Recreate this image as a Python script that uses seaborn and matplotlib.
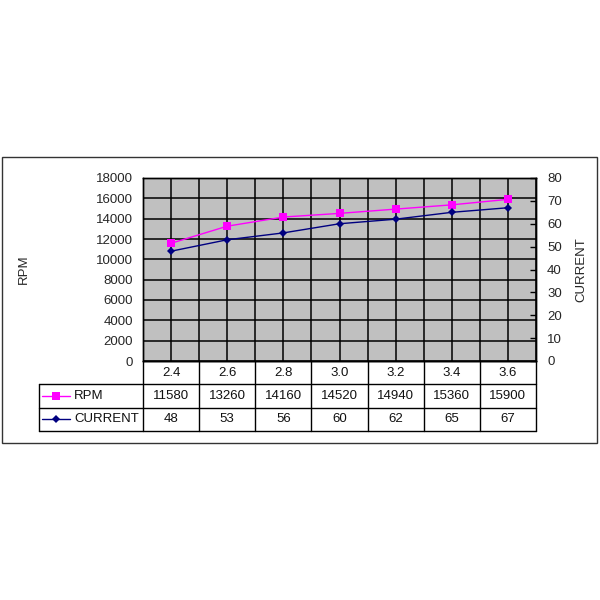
import numpy as np
import pandas as pd
import matplotlib
matplotlib.use("Agg")
import matplotlib.pyplot as plt
import seaborn as sns
from matplotlib.lines import Line2D
from matplotlib.patches import Rectangle

# ------------------------------------------------------------
# data
# ------------------------------------------------------------
categories = ["2.4", "2.6", "2.8", "3.0", "3.2", "3.4", "3.6"]
rpm = [11580, 13260, 14160, 14520, 14940, 15360, 15900]
current = [48, 53, 56, 60, 62, 65, 67]
series_names = ["RPM", "CURRENT"]

rpm_ticks = np.arange(0, 18001, 2000)
current_ticks = np.arange(0, 81, 10)

RPM_COLOR = "#FF00FF"
CUR_COLOR = "#000080"

sns.set_theme(style="white")
plt.rcParams["font.family"] = ["Liberation Sans", "DejaVu Sans"]
plt.rcParams["font.size"] = 9.5
plt.rcParams["text.color"] = "#111111"

df = pd.DataFrame({"pos": np.arange(len(categories)), "RPM": rpm, "CURRENT": current})

W, H = 600, 600
fig = plt.figure(figsize=(6, 6), dpi=100)

# outer frame
fig.patches.append(Rectangle((2 / W, 1 - 443 / H), 595 / W, 286 / H,
                             transform=fig.transFigure, fill=False,
                             edgecolor="#333333", linewidth=1.0))

# ------------------------------------------------------------
# main plot
# ------------------------------------------------------------
left, right, top, bottom = 143, 536, 178, 361
ax = fig.add_axes([left / W, 1 - bottom / H, (right - left) / W, (bottom - top) / H])
ax.set_facecolor("#C0C0C0")

sns.lineplot(data=df, x="pos", y="RPM", ax=ax, color=RPM_COLOR, marker="s",
             markersize=6, markeredgewidth=0, linewidth=1.0, zorder=5)
ax.set_xlim(-0.5, len(categories) - 0.5)
ax.set_ylim(rpm_ticks[0], rpm_ticks[-1])
ax.set_yticks(rpm_ticks)
ax.set_yticklabels([str(t) for t in rpm_ticks], fontsize=9.5)
ax.set_xticks(np.arange(-0.5, len(categories), 0.5))
ax.set_xticklabels([])
ax.grid(True, color="black", linewidth=1.1)
ax.tick_params(axis="both", length=0)
ax.tick_params(axis="y", pad=7)
ax.set_xlabel("")
ax.set_ylabel("RPM", fontsize=9.5)
ax.yaxis.set_label_coords((30 - left) / (right - left), 0.5)
for s in ax.spines.values():
    s.set_color("black")
    s.set_linewidth(1.0)

ax2 = ax.twinx()
sns.lineplot(data=df, x="pos", y="CURRENT", ax=ax2, color=CUR_COLOR, marker="D",
             markersize=4.5, markeredgewidth=0, linewidth=1.0, zorder=5)
ax2.set_ylim(current_ticks[0], current_ticks[-1])
ax2.set_yticks(current_ticks)
ax2.set_yticklabels([str(t) for t in current_ticks], fontsize=9.5)
ax2.set_xlabel("")
ax2.set_ylabel("CURRENT", fontsize=9.5)
ax2.yaxis.set_label_coords((575 - left) / (right - left), 0.5)
ax2.tick_params(axis="y", direction="in", length=4, width=1, color="black", pad=8)
ax2.grid(False)
for s in ax2.spines.values():
    s.set_color("black")
    s.set_linewidth(1.0)

# ------------------------------------------------------------
# data table under the plot
# ------------------------------------------------------------
t_left, t_bottom = 39, 431
n = len(categories)
cat_w = (right - left) / n
leg_w = (left - t_left) / cat_w
tab = fig.add_axes([t_left / W, 1 - t_bottom / H, (right - t_left) / W, (t_bottom - bottom) / H])
tab.set_xlim(-0.5 - leg_w, n - 0.5)
tab.set_ylim(3, 0)
tab.axis("off")

lk = dict(color="black", linewidth=1.0, clip_on=False)
# horizontal lines
tab.plot([-0.5, n - 0.5], [0, 0], **lk)
for yy in (1, 2, 3):
    tab.plot([-0.5 - leg_w, n - 0.5], [yy, yy], **lk)
# vertical lines
tab.plot([-0.5 - leg_w, -0.5 - leg_w], [1, 3], **lk)
for i in range(n + 1):
    tab.plot([i - 0.5, i - 0.5], [0, 3], **lk)

for i, c in enumerate(categories):
    tab.text(i, 0.5, c, ha="center", va="center")
    tab.text(i, 1.5, str(rpm[i]), ha="center", va="center")
    tab.text(i, 2.5, str(current[i]), ha="center", va="center")

# legend keys in first column
x0 = -0.5 - leg_w + 0.06
x1 = x0 + 0.5
for row, (name, col, mk, ms) in enumerate(zip(series_names, [RPM_COLOR, CUR_COLOR],
                                              ["s", "D"], [6, 4])):
    yy = row + 1.5
    tab.add_line(Line2D([x0, x1], [yy, yy], color=col, linewidth=1.0))
    tab.add_line(Line2D([(x0 + x1) / 2], [yy], color=col, marker=mk,
                        markersize=ms, markeredgewidth=0, linestyle="none"))
    tab.text(x1 + 0.07, yy, name, ha="left", va="center")

fig.savefig("out.png", dpi=100)
